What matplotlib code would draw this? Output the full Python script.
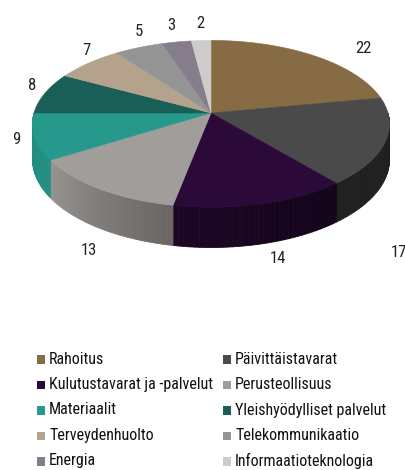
import matplotlib
matplotlib.use('Agg')
import matplotlib.pyplot as plt
from matplotlib.patches import Polygon, Rectangle
from matplotlib.colors import to_rgb
import numpy as np

# data
sectors = ['Rahoitus', 'Päivittäistavarat', 'Kulutustavarat ja -palvelut', 'Perusteollisuus',
           'Materiaalit', 'Yleishyödylliset palvelut', 'Terveydenhuolto', 'Telekommunikaatio',
           'Energia', 'Informaatioteknologia']
shares = [22, 17, 14, 13, 9, 8, 7, 5, 3, 2]
colors = ['#866B45', '#4A4A4A', '#2B0A3A', '#A19D9A', '#26998C',
          '#1A5E58', '#B5A28D', '#959494', '#857E8A', '#CFCBC8']

plt.rcParams['font.family'] = ['Roboto Condensed', 'DejaVu Sans']

# 3D pie geometry (pixel space)
CX, CY = 211, 113
RX, RY = 177, 82
DEPTH = 35
P = 0.13   # perspective strength


def project(X, Y, depth=0.0):
    s = 1.0 / (1.0 - P * Y)
    return CX + RX * X * s, CY + (RY * Y + depth) * s


def shade(theta):
    return np.interp(theta, [90, 140, 190, 237, 270], [0.40, 0.45, 0.64, 0.93, 0.92])


fig = plt.figure(figsize=(4.06, 4.70), dpi=100)
ax = fig.add_axes([0, 0, 1, 1])
ax.set_xlim(0, 406)
ax.set_ylim(470, 0)
ax.axis('off')

total = sum(shares)
bounds = np.concatenate([[0], np.cumsum(shares) / total * 360.0])

# outer walls (front half only)
for i, c in enumerate(colors):
    a0, a1 = max(bounds[i], 90), min(bounds[i + 1], 270)
    if a1 <= a0:
        continue
    th = np.linspace(a0, a1, max(3, int((a1 - a0) / 1.5) + 1))
    base = np.array(to_rgb(c))
    for t0, t1 in zip(th[:-1], th[1:]):
        r0, r1 = np.radians([t0, t1])
        p_top0 = project(np.sin(r0), -np.cos(r0))
        p_top1 = project(np.sin(r1), -np.cos(r1))
        p_bot1 = project(np.sin(r1), -np.cos(r1), DEPTH)
        p_bot0 = project(np.sin(r0), -np.cos(r0), DEPTH)
        col = np.clip(base * shade((t0 + t1) / 2), 0, 1)
        ax.add_patch(Polygon([p_top0, p_top1, p_bot1, p_bot0], closed=True,
                             facecolor=col, edgecolor=col, linewidth=0.6))

# top faces
for i, c in enumerate(colors):
    th = np.radians(np.linspace(bounds[i], bounds[i + 1], 120))
    pts = [(CX, CY)] + [project(np.sin(t), -np.cos(t)) for t in th]
    ax.add_patch(Polygon(pts, closed=True, facecolor=c, edgecolor=c, linewidth=0.4))

# value labels
LAB_AX, LAB_AY_BACK, LAB_AY_FRONT = 200, 92, 150
nudge = [(25, 6), (0, 89), (17, 0), (-10, 13), (-3, -15),
         (15, -5), (25, -2), (19, 0), (4, 2), (2, 2)]
for i, v in enumerate(shares):
    mid = np.radians((bounds[i] + bounds[i + 1]) / 2)
    ay = LAB_AY_BACK if np.cos(mid) > 0 else LAB_AY_FRONT
    lx = CX + LAB_AX * np.sin(mid) + nudge[i][0]
    ly = CY - ay * np.cos(mid) + nudge[i][1]
    ax.text(lx, ly, str(v), fontsize=12, ha='center', va='center', color='#222222')

# legend (two columns, row-wise)
for i, (name, c) in enumerate(zip(sectors, colors)):
    col, row = i % 2, i // 2
    x0 = 37 if col == 0 else 223
    y0 = 359 + row * 25.5
    ax.add_patch(Rectangle((x0, y0 - 4), 8.5, 8.5, facecolor=c, edgecolor='none'))
    ax.text(x0 + 12, y0, name, fontsize=11.5, ha='left', va='center', color='#111111')

fig.savefig('out.png', dpi=100, facecolor='white')
